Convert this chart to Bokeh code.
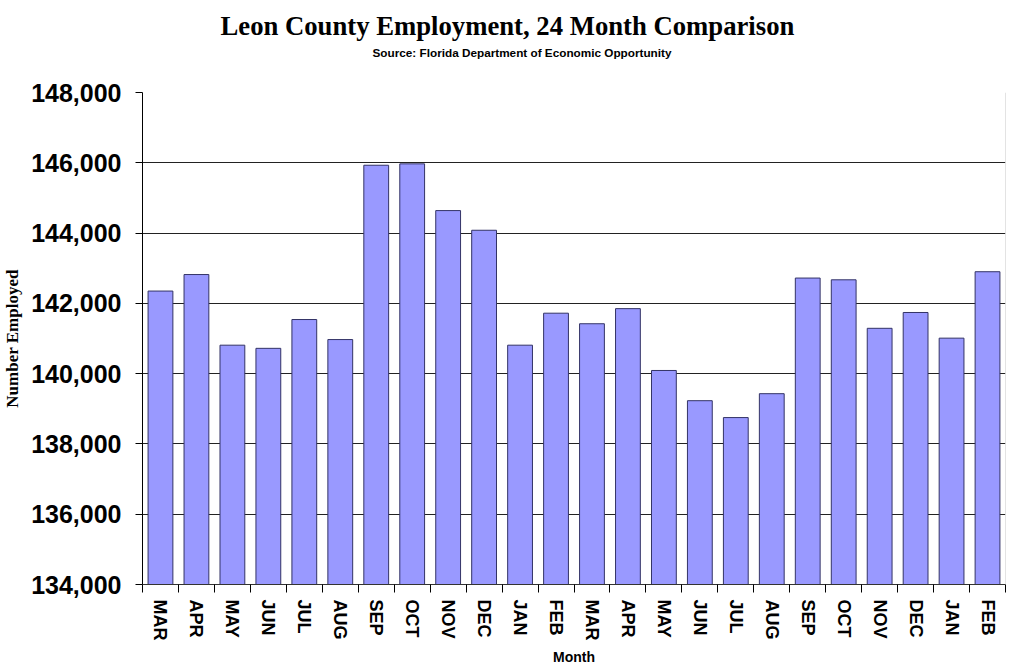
from bokeh.plotting import figure
from bokeh.models import FixedTicker, NumeralTickFormatter, Span, Range1d, Title
from bokeh.embed import file_html
from bokeh.resources import INLINE

months = ["MAR", "APR", "MAY", "JUN", "JUL", "AUG", "SEP", "OCT", "NOV", "DEC", "JAN", "FEB",
          "MAR", "APR", "MAY", "JUN", "JUL", "AUG", "SEP", "OCT", "NOV", "DEC", "JAN", "FEB"]
employed = [142350, 142820, 140810, 140720, 141540, 140970, 145930, 145970, 144640, 144080, 140810, 141720,
            141420, 141850, 140090, 139230, 138750, 139430, 142720, 142670, 141290, 141740, 141010, 142900]
y_ticks = [134000, 136000, 138000, 140000, 142000, 144000, 146000, 148000]

title_text = "Leon County Employment, 24 Month Comparison"
subtitle_text = "Source: Florida Department of Economic Opportunity"
x_label_text = "Month"
y_label_text = "Number Employed"

idx = list(range(len(months)))
boundaries = [i - 0.5 for i in range(len(months) + 1)]

W, H = 1008, 669
LEFT, RIGHT, TOP, BOTTOM = 135, 3, 92, 85

p = figure(width=W, height=H,
           x_range=Range1d(-0.5, len(months) - 0.5),
           y_range=Range1d(y_ticks[0], y_ticks[-1]),
           output_backend="svg", toolbar_location=None, title=None,
           min_border_left=LEFT, min_border_right=RIGHT, min_border_top=TOP, min_border_bottom=BOTTOM)
p.outline_line_color = None
p.background_fill_color = "white"
p.border_fill_color = "white"

p.vbar(x=idx, top=employed, bottom=y_ticks[0], width=0.69,
       fill_color="#9999FF", line_color="#333366", line_width=1)

# x axis
xa = p.xaxis[0]
xa.ticker = FixedTicker(ticks=idx, minor_ticks=boundaries)
xa.major_label_overrides = {i: m for i, m in enumerate(months)}
xa.major_tick_line_color = None
xa.major_tick_out = 0
xa.major_tick_in = 0
xa.minor_tick_in = 0
xa.minor_tick_out = 8
xa.minor_tick_line_color = "black"
xa.axis_line_color = "#333333"
xa.major_label_orientation = "vertical"
xa.major_label_standoff = 7
xa.major_label_text_font = "Liberation Sans"
xa.major_label_text_font_style = "bold"
xa.major_label_text_font_size = "18px"
xa.major_label_text_color = "black"
xa.axis_label = x_label_text
xa.axis_label_text_font = "Liberation Sans"
xa.axis_label_text_font_style = "bold"
xa.axis_label_text_font_size = "14px"
xa.axis_label_text_color = "black"
xa.axis_label_standoff = 6

# y axis
ya = p.yaxis[0]
ya.ticker = FixedTicker(ticks=y_ticks)
ya.formatter = NumeralTickFormatter(format="0,0")
ya.major_tick_out = 7
ya.major_tick_in = 0
ya.minor_tick_line_color = None
ya.axis_line_color = "black"
ya.major_tick_line_color = "black"
ya.major_label_standoff = 14
ya.major_label_text_font = "Liberation Sans"
ya.major_label_text_font_style = "bold"
ya.major_label_text_font_size = "25px"
ya.major_label_text_color = "black"
ya.axis_label = y_label_text
ya.axis_label_text_font = "Liberation Serif"
ya.axis_label_text_font_style = "bold"
ya.axis_label_text_font_size = "17px"
ya.axis_label_text_color = "black"
ya.axis_label_standoff = 6

p.xgrid.visible = False
p.ygrid.ticker = FixedTicker(ticks=y_ticks)
p.ygrid.grid_line_color = "#222222"
p.ygrid.grid_line_width = 1

p.add_layout(Span(location=len(months) - 0.5, dimension="height",
                  line_color="#c8c8c8", line_width=1))

# stacked titles above the frame: first added sits closest to the frame
p.add_layout(Title(text=" ", text_font_size="2px", standoff=30), "above")
p.add_layout(Title(text=subtitle_text, align="left", offset=230,
                   text_font="Liberation Sans", text_font_size="11.75px", text_font_style="bold",
                   text_color="black", standoff=0), "above")
p.add_layout(Title(text=title_text, align="left", offset=78,
                   text_font="Liberation Serif", text_font_size="26.7px", text_font_style="bold",
                   text_color="black", standoff=5), "above")

open("out.html", "w").write(file_html(p, INLINE))
